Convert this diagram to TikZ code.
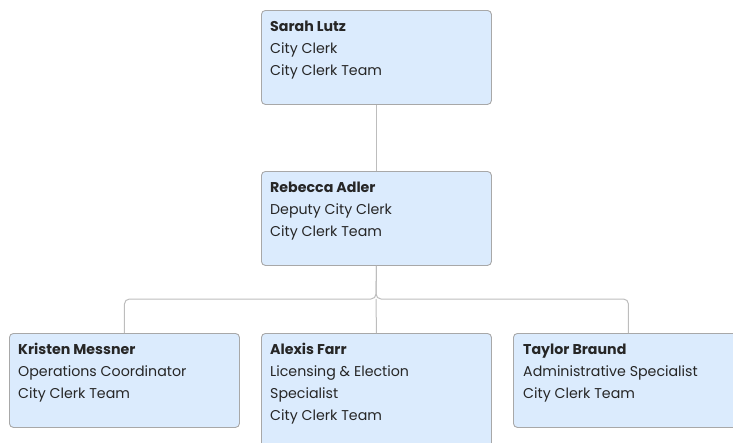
\documentclass[tikz,border=0pt]{standalone}
\usepackage{fontspec}
\setmainfont{Poppins}
\begin{document}
\begin{tikzpicture}[x=1pt,y=-1pt,
  card/.style={draw=boxline, fill=boxfill, rounded corners=4pt, line width=0.9pt,
    anchor=north west, minimum width=230pt, minimum height=94pt, inner sep=0pt},
  cardtext/.style={anchor=base west, inner sep=0pt, align=left, text=txt,
    font=\fontsize{14.2}{22}\selectfont},
  link/.style={draw=linkc, line width=1pt, rounded corners=5pt}]
\definecolor{boxfill}{HTML}{DBEBFD}
\definecolor{boxline}{HTML}{A8A8A8}
\definecolor{linkc}{HTML}{BDBDBD}
\definecolor{txt}{HTML}{262626}
\useasboundingbox (0,0) rectangle (733,442);
\begin{scope}
\clip (0,0) rectangle (733,442);
\node[card] (sarah) at (261,10) {};
\node[card] (rebecca) at (261,171) {};
\node[card] (kristen) at (9,333) {};
\node[card, minimum height=120pt] (alexis) at (261,333) {};
\node[card] (taylor) at (513,333) {};
\coordinate (bus) at (376,299);
\draw[link] (sarah.south) -- (rebecca.north);
\draw[link] (rebecca.south) -- (bus) -| (kristen.north);
\draw[link] (rebecca.south) -- (bus) -| (taylor.north);
\draw[link] (bus) -- (alexis.north);
% base anchor = baseline of the last line
\node[cardtext] (t1) at (270,75) {\textbf{Sarah Lutz}\\City Clerk\\City Clerk Team};
\node[cardtext] (t2) at (270,236) {\textbf{Rebecca Adler}\\Deputy City Clerk\\City Clerk Team};
\node[cardtext] (t3) at (18,398) {\textbf{Kristen Messner}\\Operations Coordinator\\City Clerk Team};
\node[cardtext] (t4) at (270,420) {\textbf{Alexis Farr}\\Licensing \& Election\\Specialist\\City Clerk Team};
\node[cardtext] (t5) at (523,398) {\textbf{Taylor Braund}\\Administrative Specialist\\City Clerk Team};
\end{scope}
\end{tikzpicture}
\end{document}
